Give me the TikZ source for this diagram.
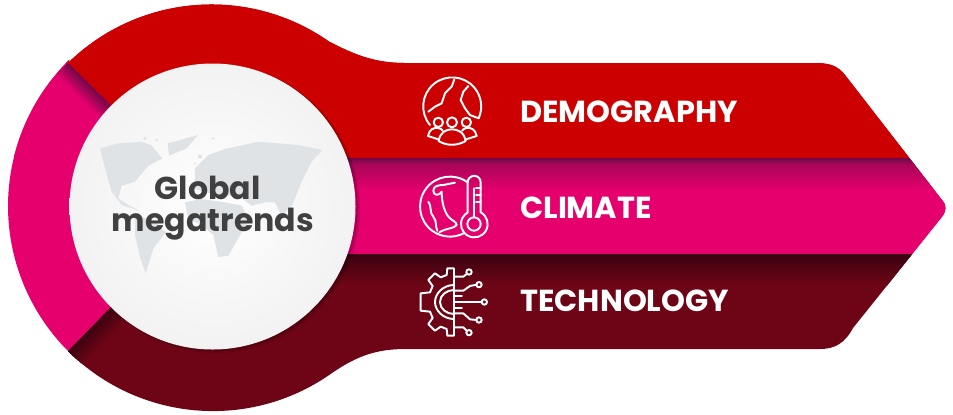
\documentclass[tikz,border=0pt]{standalone}
\usepackage{fontspec}
\setmainfont{Poppins}
\usetikzlibrary{calc}
\definecolor{cRed}{HTML}{CC0000}
\definecolor{cPink}{HTML}{E5006D}
\definecolor{cDark}{HTML}{6E0516}
\definecolor{cShadeP}{HTML}{6B0A45}
\definecolor{cShadeM}{HTML}{A80558}
\definecolor{cShadeD}{HTML}{3A0210}
\definecolor{cMap}{HTML}{DFE3E6}
\definecolor{cText}{HTML}{404040}
\tikzset{
  iconline/.style={draw=white,line width=1.1pt,line join=round,line cap=round,fill=none},
  bandlabel/.style={text=white,font=\bfseries\fontsize{17.3}{20}\selectfont,anchor=west,inner sep=0pt},
  spherelabel/.style={text=cText,font=\bfseries\fontsize{18}{22}\selectfont,inner sep=0pt},
  maptone/.style={fill=cMap,draw=none}
}
\begin{document}
\begin{tikzpicture}[x=0.02cm,y=-0.02cm]
\useasboundingbox (0,0) rectangle (953,414);
\fill[white] (0,0) rectangle (953,414);
\begin{scope}
\clip (68,63) arc[start angle=225.6,end angle=305,radius=205]
   .. controls (355,55) and (375,63) .. (405,63)
   -- (815,63) .. controls (830,63) and (838,66) .. (845,75)
   -- (942,200) .. controls (947,206) and (947,210) .. (942,217)
   -- (853,328) .. controls (845,343) and (835,349) .. (820,349)
   -- (405,349) .. controls (375,349) and (355,357) .. (330.6,374)
   arc[start angle=55,end angle=134.4,radius=205]
   arc[start angle=134.4,end angle=225.6,radius=205] -- cycle;
 \fill[cRed] (0,0) rectangle (953,158);
 \fill[cRed] (60,0) rectangle (953,206);
 \fill[cPink] (0,0) -- (68,63) -- (213,206) -- (70,350) -- (0,414) -- cycle;
 \fill[cPink] (300,158) rectangle (953,254);
 \fill[cDark] (213,206) -- (70,350) -- (0,414) -- (953,414) -- (953,254) -- (300,254) -- cycle;
 % soft shadows on the left wedges, along their borders
 \foreach \d/\m in {16/12,14/24,12/36,10/48,8/60,6/70,4/82,2/92}{
   \colorlet{stepc}{cShadeP!\m!cPink}
   \fill[stepc,opacity=.75] ($(68,63)+(-.7071*\d,.7071*\d)$) -- ($(128,122.5)+(-.7071*\d,.7071*\d)$) -- (128,122.5) -- (68,63) -- cycle;
 }
 \foreach \d/\m in {20/10,17/25,14/40,11/55,8/68,5/82,2/95}{
   \colorlet{stepc}{cShadeD!\m!cDark}
   \fill[stepc] ($(50,370)+(.7071*\d,.7071*\d)$) -- ($(128,290)+(.7071*\d,.7071*\d)$) -- (128,290) -- (50,370) -- cycle;
 }
 \shade[top color=cShadeP,bottom color=cShadeM] (300,158) rectangle (953,164);
 \shade[top color=cShadeM,bottom color=cPink] (300,164) rectangle (953,190);
 \shade[top color=cShadeD,bottom color=cDark] (300,254) rectangle (953,285);
\end{scope}
% sphere shadow and sphere
\fill[black,opacity=.10] (216,209) circle[radius=144];
\fill[black,opacity=.15] (214.5,207.5) circle[radius=143.5];
\shade[inner color=white,outer color=black!5!white] (212.5,206.5) circle[radius=143];
% world map
\begin{scope}[shift={(85,125)},x=0.00667cm,y=-0.00667cm]
 \fill[maptone] (45,70) -- (100,55) -- (170,50) -- (200,62) -- (232,100) -- (190,122) -- (150,170) -- (110,182) -- (100,220) -- (130,240) -- (165,258) -- (110,240) -- (80,200) -- (60,130) -- cycle;
 \fill[maptone] (248,55) -- (340,30) -- (305,70) -- (252,92) -- cycle;
 \fill[maptone] (150,270) -- (210,290) -- (242,322) -- (205,370) -- (182,445) -- (166,400) -- (150,330) -- cycle;
 \fill[maptone] (330,130) -- (370,90) -- (420,72) -- (520,50) -- (640,60) -- (712,75) -- (680,110) -- (650,170) -- (622,240) -- (590,272) -- (570,232) -- (540,232) -- (500,242) -- (460,212) -- (400,212) -- (330,192) -- cycle;
 \fill[maptone] (300,232) -- (350,222) -- (420,232) -- (470,242) -- (492,282) -- (460,340) -- (430,392) -- (400,396) -- (385,330) -- (350,300) -- (310,282) -- cycle;
 \fill[maptone] (180,40) circle[radius=5] (215,45) circle[radius=4] (345,95) circle[radius=6] (330,115) circle[radius=4] (385,40) circle[radius=4];
\end{scope}
\node[spherelabel] (lblA) at (207.5,188) {Global};
\node[spherelabel] (lblB) at (213,224) {megatrends};
\node[bandlabel] (demo) at (520,112) {DEMOGRAPHY};
\node[bandlabel] (clim) at (520,207.5) {CLIMATE};
\node[bandlabel] (tech) at (520,300.5) {TECHNOLOGY};
% icon 1: globe and people
\begin{scope}[shift={(400,60)},x=0.00667cm,y=-0.00667cm]
 \draw[iconline] (90,195) arc[start angle=140,end angle=384,radius=87];
 \draw[iconline] (163,58) -- (155,80) -- (135,100) -- (125,130) -- (105,140) -- (85,155);
 \draw[iconline] (205,78) -- (190,95) -- (182,120) -- (195,145) -- (210,165) -- (236,175);
 \draw[iconline] (115,187) circle[radius=14];
 \draw[iconline] (156,187) circle[radius=15];
 \draw[iconline] (199,187) circle[radius=14];
 \draw[iconline] (84,228) .. controls (88,208) and (100,202) .. (115,204) .. controls (122,206) and (125,208) .. (128,212);
 \draw[iconline] (84,228) -- (115,238);
 \draw[iconline] (230,228) .. controls (226,208) and (214,202) .. (199,204) .. controls (192,206) and (189,208) .. (186,212);
 \draw[iconline] (230,228) -- (198,238);
 \draw[iconline] (116,243) .. controls (120,215) and (140,208) .. (156,208) .. controls (172,208) and (192,215) .. (197,243) .. controls (170,258) and (140,258) .. (116,243) -- cycle;
\end{scope}
% icon 2: globe and thermometer
\begin{scope}[shift={(400,160)},x=0.00667cm,y=-0.00667cm]
 \draw[iconline] (203,67) arc[start angle=306,end angle=63,radius=90];
 \draw[iconline] (130,75) .. controls (115,75) and (100,78) .. (100,92) .. controls (100,108) and (118,108) .. (125,95) .. controls (125,120) and (130,150) .. (145,170) .. controls (155,182) and (170,185) .. (170,195) .. controls (165,205) and (135,205) .. (118,217);
 \draw[iconline] (130,75) -- (165,68);
 \draw[iconline] (85,125) .. controls (95,135) and (88,160) .. (100,170) .. controls (112,185) and (105,200) .. (112,212);
 \draw[iconline] (203,157) -- (203,67) arc[start angle=180,end angle=360,radius=19.5] -- (242,157) arc[start angle=-61.5,end angle=241.5,radius=40];
 \draw[iconline] (222,192) circle[radius=20];
 \draw[iconline] (222,172) -- (222,85);
 \draw[iconline] (228,85) -- (242,85) (228,105) -- (242,105) (228,125) -- (242,125);
\end{scope}
% icon 3: gear and circuit
\begin{scope}[shift={(400,160)},x=0.00667cm,y=-0.00667cm]
 \draw[iconline] (162,325) -- (142,325) -- (140,345) -- (122,352) -- (105,340) -- (85,360) -- (98,378) -- (90,397) -- (62,400) -- (62,452) -- (90,455) -- (98,474) -- (85,492) -- (105,512) -- (122,500) -- (140,507) -- (142,527) -- (162,527) -- cycle;
 \draw[iconline] (162,375) .. controls (130,375) and (105,400) .. (105,426) .. controls (105,452) and (130,477) .. (162,477);
 \draw[iconline] (162,390) .. controls (140,390) and (120,405) .. (120,426) .. controls (120,447) and (140,462) .. (162,462);
 \draw[iconline] (162,350) -- (190,350) -- (200,342);
 \draw[iconline] (207,336) circle[radius=8];
 \draw[iconline] (162,392) -- (190,392) -- (210,378) -- (230,374);
 \draw[iconline] (237,374) circle[radius=8];
 \draw[iconline] (162,426) -- (245,426);
 \draw[iconline] (253,426) circle[radius=8];
 \draw[iconline] (162,460) -- (190,460) -- (210,478) -- (230,480);
 \draw[iconline] (237,480) circle[radius=8];
 \draw[iconline] (162,502) -- (190,502) -- (200,512);
 \draw[iconline] (207,518) circle[radius=8];
 \draw[iconline] (162,408) -- (186,408) (162,444) -- (186,444);
\end{scope}
\end{tikzpicture}
\end{document}
